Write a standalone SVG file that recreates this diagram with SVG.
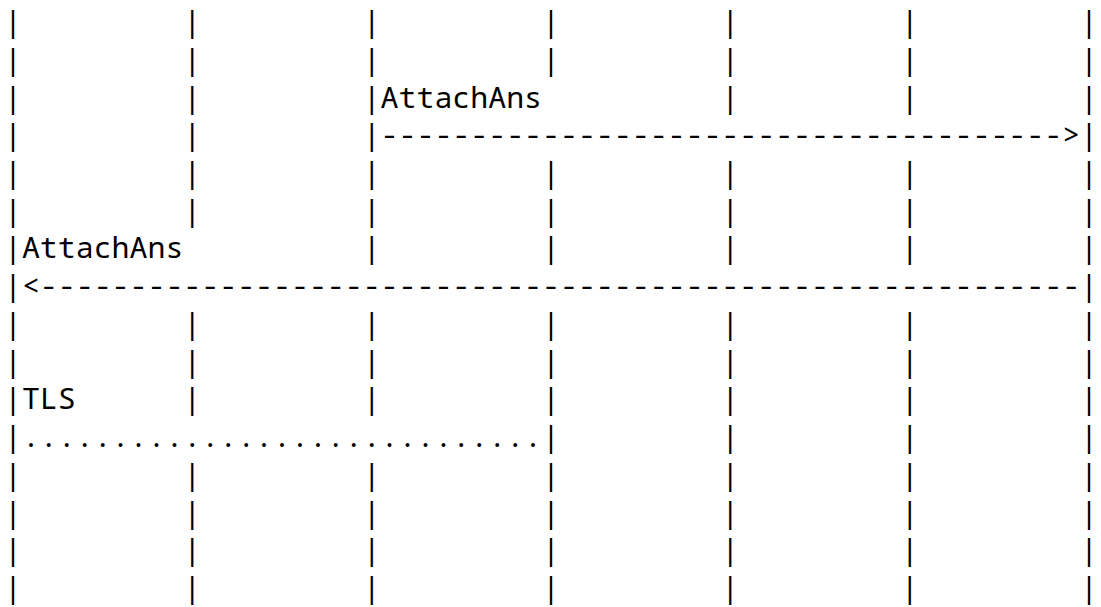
<svg xmlns="http://www.w3.org/2000/svg" width="1101" height="607" viewBox="0 0 1101 607">
<style>
text{font-family:"Noto Sans Mono","DejaVu Sans Mono","Liberation Mono",monospace;font-size:29.9px;fill:#000;white-space:pre}
</style>
<rect width="1101" height="607" fill="#fff"/>
<g id="lifelines" xml:space="preserve">
<text x="4" y="32">|         |         |         |         |         |         |</text>
<text x="4" y="69.7">|         |         |         |         |         |         |</text>
<text x="4" y="182.9">|         |         |         |         |         |         |</text>
<text x="4" y="220.7">|         |         |         |         |         |         |</text>
<text x="4" y="333.9">|         |         |         |         |         |         |</text>
<text x="4" y="371.6">|         |         |         |         |         |         |</text>
<text x="4" y="484.8">|         |         |         |         |         |         |</text>
<text x="4" y="522.6">|         |         |         |         |         |         |</text>
<text x="4" y="560.3">|         |         |         |         |         |         |</text>
<text x="4" y="598">|         |         |         |         |         |         |</text>
</g>
<g id="connectors" xml:space="preserve">
<g id="msg1">
<text x="4" y="107.5">|         |         |AttachAns          |         |         |</text>
<text x="4" y="145.2">|         |         |--------------------------------------&gt;|</text>
</g>
<g id="msg2">
<text x="4" y="258.4">|AttachAns          |         |         |         |         |</text>
<text x="4" y="296.1">|&lt;----------------------------------------------------------|</text>
</g>
<g id="msg3">
<text x="4" y="409.3">|TLS      |         |         |         |         |         |</text>
<text x="4" y="447.1">|.............................|         |         |         |</text>
</g>
</g>
</svg>
